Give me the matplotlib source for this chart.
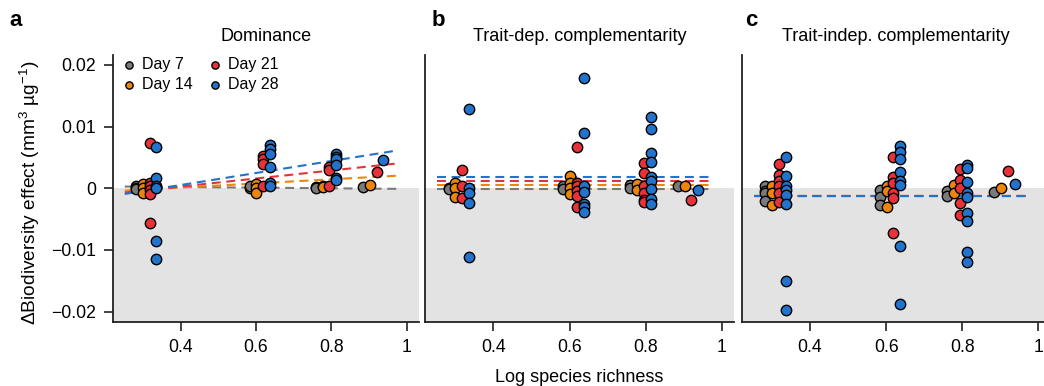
import numpy as np
import matplotlib
matplotlib.use("Agg")
import matplotlib.pyplot as plt

plt.rcParams['font.family'] = ['Liberation Sans', 'DejaVu Sans']
plt.rcParams['mathtext.fontset'] = 'custom'
plt.rcParams['mathtext.rm'] = 'Liberation Sans'
plt.rcParams['mathtext.it'] = 'Liberation Sans:italic'

# ---------------- data ----------------
richness = [2, 4, 6, 8]                       # species richness levels
days = ["Day 7", "Day 14", "Day 21", "Day 28"]
panel_titles = ["Dominance", "Trait-dep. complementarity", "Trait-indep. complementarity"]
panel_letters = ["a", "b", "c"]
xticks = [0.4, 0.6, 0.8, 1.0]
xticklabels = ["0.4", "0.6", "0.8", "1"]
yticks = [0.02, 0.01, 0.0, -0.01, -0.02]
yticklabels = ["0.02", "0.01", "0", "\u22120.01", "\u22120.02"]

# Dominance: values per richness level for each day
dom_d7 = [[0.0003, 0.0, -0.0002], [0.0, 0.0003], [0.0002, 0.0], [0.0002]]
dom_d14 = [[0.0007, 0.0, -0.0008], [0.0007, 0.0, -0.0008], [0.0004, 0.0002], [0.0005]]
dom_d21 = [[0.0073, 0.0009, 0.0003, -0.0003, -0.0009, -0.0057],
           [0.0052, 0.0047, 0.0040, 0.0004],
           [0.0035, 0.0029, 0.0004],
           [0.0027]]
dom_d28 = [[0.0066, 0.0017, 0.0003, 0.0001, -0.0085, -0.0115],
           [0.0070, 0.0063, 0.0056, 0.0035, 0.0008, 0.0003],
           [0.0055, 0.0051, 0.0047, 0.0038, 0.0016, 0.0013],
           [0.0045]]

# Trait-dependent complementarity
tdc_d7 = [[0.0, -0.0002], [0.0003, -0.0001], [0.0005, 0.0], [0.0004]]
tdc_d14 = [[0.0008, 0.0001, -0.0015], [0.0020, 0.0008, 0.0, -0.0009], [0.0007, -0.0003], [0.0003]]
tdc_d21 = [[0.0029, 0.0003, -0.0016],
           [0.0066, 0.0008, 0.0003, -0.0004, -0.0012, -0.0031],
           [0.0041, 0.0024, 0.0003, -0.0008, -0.0019, -0.0023],
           [-0.0019]]
tdc_d28 = [[0.0128, 0.0, -0.0008, -0.0024, -0.0112],
           [0.0178, 0.0090, 0.0003, -0.0006, -0.0026, -0.0031, -0.0038],
           [0.0115, 0.0096, 0.0057, 0.0042, 0.0018, 0.0011, -0.0002, -0.0018, -0.0026],
           [-0.0003]]

# Trait-independent complementarity
tic_d7 = [[0.0003, -0.0004, -0.0008, -0.0021], [-0.0003, -0.0015, -0.0028], [-0.0005, -0.0012], [-0.0006]]
tic_d14 = [[0.0003, -0.0007, -0.0028], [0.0004, -0.0005, -0.0031], [0.0005, -0.0008], [0.0]]
tic_d21 = [[0.0039, 0.0022, 0.0011, 0.0003, -0.0008, -0.0022],
           [0.0051, 0.0018, 0.0009, -0.0008, -0.0016, -0.0072],
           [0.0031, 0.0014, 0.0, -0.0024, -0.0043],
           [0.0028]]
tic_d28 = [[0.0050, 0.0019, 0.0004, -0.0003, -0.0011, -0.0025, -0.0150, -0.0198],
           [0.0068, 0.0058, 0.0047, 0.0026, 0.0011, 0.0005, -0.0093, -0.0188],
           [0.0038, 0.0032, 0.0010, -0.0008, -0.0014, -0.0041, -0.0054, -0.0103, -0.0120],
           [0.0007]]

# fitted lines per day: intercept and slope (y = a + b * log richness)
dom_fit_a = [0.0004, -0.00124, -0.00235, -0.00339]
dom_fit_b = [-0.00052, 0.00335, 0.00653, 0.00975]
tdc_fit_a = [-0.0001, 0.0005, 0.0011, 0.0018]
tdc_fit_b = [0.0, 0.0, 0.0, 0.0]
tic_fit_a = [-0.00125, -0.00125, -0.00125, -0.00125]
tic_fit_b = [0.0, 0.0, 0.0, 0.0]
fit_range = [0.252, 0.978]

panels = [
    ([dom_d7, dom_d14, dom_d21, dom_d28], dom_fit_a, dom_fit_b),
    ([tdc_d7, tdc_d14, tdc_d21, tdc_d28], tdc_fit_a, tdc_fit_b),
    ([tic_d7, tic_d14, tic_d21, tic_d28], tic_fit_a, tic_fit_b),
]

# ---------------- style ----------------
colors = ["#7a7a7a", "#ec850c", "#e8323a", "#2273cb"]
dodge = [-0.019, -0.001, 0.017, 0.035]
W, H = 1044, 386
fig = plt.figure(figsize=(W / 100, H / 100), dpi=100)

lefts = [112.7, 425.0, 741.5]
widths = [306.0, 309.0, 309.0]
ax_bottom_px, ax_top_px = 322.0, 55.0
spine_col = "#222222"

axes = []
for i, (series, fa, fb) in enumerate(panels):
    ax = fig.add_axes([lefts[i] / W, 1 - ax_bottom_px / H, widths[i] / W,
                       (ax_bottom_px - ax_top_px) / H])
    axes.append(ax)
    ax.set_xlim(0.22, 1.032)
    ax.set_ylim(-0.0217, 0.0216)
    ax.axhspan(-0.0217, 0.0, color="#e3e3e3", zorder=0, lw=0)
    for s in ["top", "right"]:
        ax.spines[s].set_visible(False)
    for s in ["left", "bottom"]:
        ax.spines[s].set_color(spine_col)
        ax.spines[s].set_linewidth(1.3)
    ax.set_xticks(xticks)
    ax.set_xticklabels(xticklabels)
    ax.tick_params(axis="x", direction="out", length=6.5, width=1.2, color=spine_col,
                   labelsize=12.7, pad=5.5)
    if i == 0:
        ax.set_yticks(yticks)
        ax.set_yticklabels(yticklabels)
        ax.tick_params(axis="y", direction="out", length=6.5, width=1.2, color=spine_col,
                       labelsize=12.7, pad=5.5)
    else:
        ax.set_yticks([])

    # fitted dashed lines
    xl = np.array(fit_range)
    for d in range(4):
        ax.plot(xl, fa[d] + fb[d] * xl, color=colors[d], lw=1.5,
                dashes=(4.3, 2.7), zorder=2)

    # points
    for d in range(4):
        for r, vals in zip(richness, series[d]):
            xs = np.full(len(vals), np.log10(r) + dodge[d])
            ax.scatter(xs, vals, s=56, color=colors[d], edgecolor="black",
                       linewidth=1.0, zorder=3 + d, label=days[d] if r == 2 else None)

    ax.set_title(panel_titles[i], fontsize=13, pad=10)
    fig.text((lefts[i] + [-103, 7, 4][i]) / W, 1 - 20 / H, panel_letters[i],
             fontsize=16, fontweight="bold", va="center", ha="left")

# legend in panel a
h, l = axes[0].get_legend_handles_labels()
axes[0].legend(h, l, loc="upper left", ncol=2, frameon=False, fontsize=11.5,
               handlelength=1.0, handletextpad=0.33, columnspacing=0.88,
               labelspacing=0.3, borderpad=0.0, borderaxespad=0.0,
               bbox_to_anchor=((121 - lefts[0]) / widths[0], 0.991), markerscale=0.7)

fig.text(29.5 / W, 1 - 192.5 / H, "\u0394Biodiversity effect (mm$^{3}$ \u00b5g$^{-1}$)",
         rotation=90, ha="center", va="center", fontsize=13.8)
fig.text(579.5 / W, 1 - 378 / H, "Log species richness", ha="center", va="center",
         fontsize=13)

fig.savefig("out.png", dpi=100)
